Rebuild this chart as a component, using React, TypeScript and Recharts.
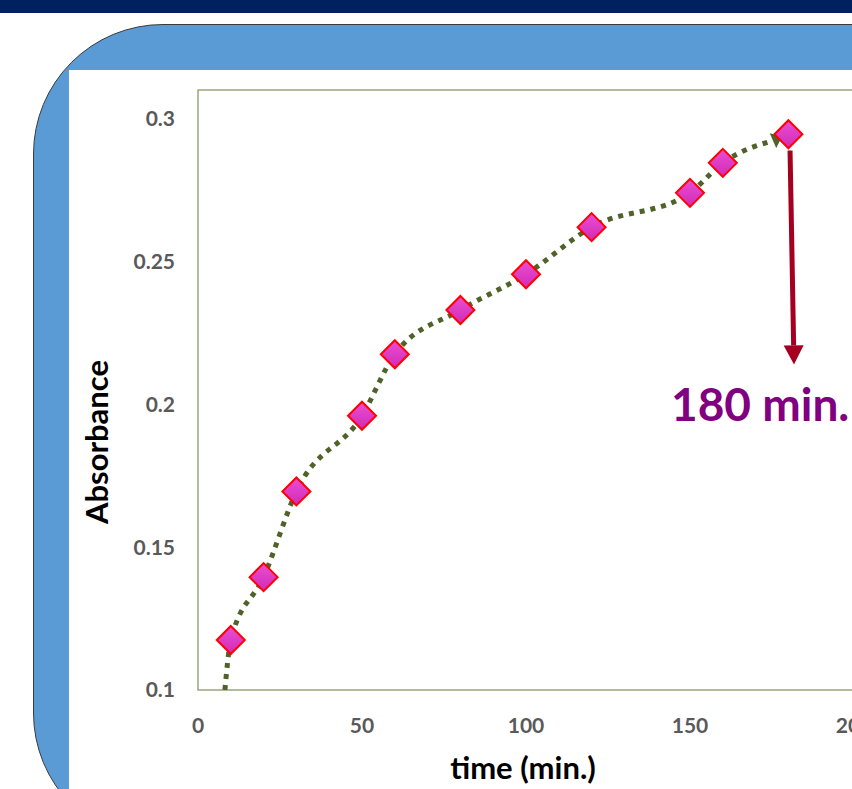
import React from 'react';
import { ComposedChart, XAxis, YAxis, Scatter, Line, ReferenceArea, ReferenceDot, Label } from 'recharts';

// Measured points (time in min., absorbance)
const times = [10, 20, 30, 50, 60, 80, 100, 120, 150, 160, 180];
const absorbance = [0.1175, 0.1395, 0.1695, 0.196, 0.2175, 0.233, 0.2455, 0.262, 0.274, 0.2845, 0.2945];

// Hand-drawn dotted arrow path over the points
const pathTimes = [8.2, 10, 20, 30, 50, 60, 80, 100, 120, 150, 160, 175.3];
const pathValues = [0.1, 0.1175, 0.1395, 0.1695, 0.196, 0.2175, 0.233, 0.2455, 0.262, 0.274, 0.2845, 0.2923];

// Red annotation arrow (start, base of head)
const arrowTimes = [180.5, 181.6];
const arrowValues = [0.2888, 0.2206];

// Annotation text anchor
const noteTime = 144.2;
const noteValue = 0.194;
const noteText = '180 min.';

const xTicks = [0, 50, 100, 150, 200];
const yTicks = [0.1, 0.15, 0.2, 0.25, 0.3];

const markerData = times.map((t, i) => ({ x: t, y: absorbance[i] }));
const pathData = pathTimes.map((t, i) => ({ x: t, y: pathValues[i] }));
const arrowData = arrowTimes.map((t, i) => ({ x: t, y: arrowValues[i] }));

const FONT = 'Lato, "Open Sans", sans-serif';

const Diamond = (props: any) => {
  const { cx, cy } = props;
  if (cx == null || cy == null) return null;
  const r = 14;
  return (
    <polygon
      points={`${cx},${cy - r} ${cx + r},${cy} ${cx},${cy + r} ${cx - r},${cy}`}
      fill="url(#diaGrad)"
      stroke="#FF0000"
      strokeWidth={2}
    />
  );
};

const makeArrowDot = (count: number, color: string, len: number, half: number) => {
  let prev: { x: number; y: number } | null = null;
  return (props: any) => {
    const { cx, cy, index, points } = props;
    const key = `ad-${index}`;
    if (index !== count - 1) {
      prev = { x: cx, y: cy };
      return <g key={key} />;
    }
    let p = prev;
    if (points && points[index - 1]) p = { x: points[index - 1].x, y: points[index - 1].y };
    const ang = p ? Math.atan2(cy - p.y, cx - p.x) : 0;
    const ux = Math.cos(ang);
    const uy = Math.sin(ang);
    const tipX = cx + ux * len;
    const tipY = cy + uy * len;
    const b1x = cx - uy * half;
    const b1y = cy + ux * half;
    const b2x = cx + uy * half;
    const b2y = cy - ux * half;
    return <polygon key={key} points={`${tipX},${tipY} ${b1x},${b1y} ${b2x},${b2y}`} fill={color} />;
  };
};

const NoteShape = (props: any) => {
  const { cx, cy } = props;
  return (
    <text x={cx} y={cy} fill="#800080" fontFamily={FONT} fontWeight={700} fontSize={46}>
      {noteText}
    </text>
  );
};

export default function App() {
  return (
    <div style={{ position: 'absolute', left: 0, top: 0, width: 852, height: 789, overflow: 'hidden', background: '#FFFFFF' }}>
      <div style={{ position: 'absolute', left: 0, top: 0, width: 852, height: 13, background: '#002060' }} />
      <div
        style={{
          position: 'absolute',
          left: 33,
          top: 24,
          width: 1000,
          height: 819,
          borderRadius: 130,
          background: '#5B9BD5',
          border: '1px solid #3A3A3A',
          boxSizing: 'border-box',
        }}
      />
      <div style={{ position: 'absolute', left: 69, top: 70, width: 900, height: 800, background: '#FFFFFF' }} />
      <div style={{ position: 'absolute', left: 0, top: 0 }}>
        <ComposedChart width={900} height={789} margin={{ top: 90, right: 46, bottom: 39, left: 0 }}>
          <defs>
            <linearGradient id="diaGrad" x1="0" y1="0" x2="0" y2="1">
              <stop offset="0%" stopColor="#E94FD3" />
              <stop offset="100%" stopColor="#D22AB6" />
            </linearGradient>
          </defs>
          <XAxis
            type="number"
            dataKey="x"
            domain={[0, 200]}
            ticks={xTicks}
            allowDataOverflow
            axisLine={false}
            tickLine={false}
            tickSize={0}
            tickMargin={28}
            height={60}
            tick={{ fill: '#595959', fontFamily: FONT, fontWeight: 700, fontSize: 21 }}
          >
            <Label
              content={(p: any) => {
                const vb = p.viewBox || { x: 198, y: 690 };
                return (
                  <text x={vb.x + 325} y={vb.y + 89} textAnchor="middle" fill="#000000" fontFamily={FONT} fontWeight={700} fontSize={31}>
                    time (min.)
                  </text>
                );
              }}
            />
          </XAxis>
          <YAxis
            type="number"
            dataKey="y"
            domain={[0.1, 0.31]}
            ticks={yTicks}
            allowDataOverflow
            axisLine={false}
            tickLine={false}
            tickSize={0}
            tickMargin={23}
            width={198}
            tick={{ fill: '#595959', fontFamily: FONT, fontWeight: 700, fontSize: 21 }}
          >
            <Label
              content={(p: any) => {
                const vb = p.viewBox || { x: 0, y: 90 };
                const x = vb.x + 108;
                const y = vb.y + 352;
                return (
                  <text x={x} y={y} transform={`rotate(-90 ${x} ${y})`} textAnchor="middle" fill="#000000" fontFamily={FONT} fontWeight={700} fontSize={31}>
                    Absorbance
                  </text>
                );
              }}
            />
          </YAxis>
          <ReferenceArea x1={0} x2={200} y1={0.1} y2={0.31} fill="none" stroke="#98A67C" strokeWidth={1.5} />
          <Line
            data={pathData}
            dataKey="y"
            type="monotone"
            stroke="#4F6228"
            strokeWidth={5}
            strokeDasharray="5 6"
            dot={makeArrowDot(pathData.length, '#4F6228', 10, 8)}
            activeDot={false}
            isAnimationActive={false}
          />
          <Scatter data={markerData} dataKey="y" shape={<Diamond />} isAnimationActive={false} />
          <Line
            data={arrowData}
            dataKey="y"
            type="linear"
            stroke="#A50021"
            strokeWidth={5}
            dot={makeArrowDot(arrowData.length, '#A50021', 19, 10)}
            activeDot={false}
            isAnimationActive={false}
          />
          <ReferenceDot x={noteTime} y={noteValue} r={0} shape={<NoteShape />} />
        </ComposedChart>
      </div>
    </div>
  );
}
